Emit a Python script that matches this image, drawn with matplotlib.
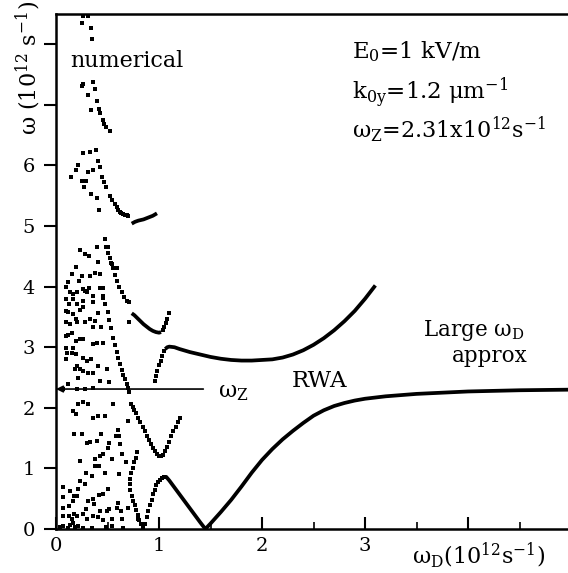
import matplotlib
matplotlib.use("Agg")
import matplotlib.pyplot as plt
from matplotlib.ticker import MultipleLocator

plt.rcParams['font.family'] = ['DejaVu Serif']
plt.rcParams['mathtext.fontset'] = 'dejavuserif'

# ---- parameters -------------------------------------------------------
omega_z = 2.31          # Zeeman frequency, 1e12 s^-1

# ---- numerical solutions: scattered cloud at small omega_D -------------
cloud_x = [
    0.265, 0.31, 0.25, 0.34, 0.35,
    0.25, 0.26, 0.356, 0.38, 0.31, 0.395, 0.34, 0.42, 0.43, 0.46, 0.47, 0.49, 0.52,
    0.265, 0.33, 0.39, 0.15, 0.19, 0.216, 0.25, 0.29, 0.275, 0.31, 0.356, 0.34, 0.395, 0.42,
    0.395, 0.50, 0.233, 0.28, 0.32, 0.41, 0.52, 0.53,
    0.194, 0.152, 0.249, 0.330, 0.379, 0.427, 0.411, 0.531, 0.556, 0.589,
    0.120, 0.097, 0.136, 0.227, 0.265, 0.282, 0.298, 0.324, 0.168, 0.201, 0.162, 0.097,
    0.201, 0.129, 0.259, 0.233, 0.265, 0.362, 0.453, 0.459, 0.356, 0.097, 0.120, 0.168,
    0.194, 0.411, 0.330, 0.379, 0.282, 0.097, 0.136, 0.201, 0.356, 0.434, 0.152, 0.120,
    0.097, 0.194, 0.233, 0.259, 0.356, 0.395, 0.459, 0.097, 0.168, 0.104, 0.152, 0.194,
    0.265, 0.097, 0.298, 0.337, 0.201, 0.184, 0.233, 0.265, 0.411, 0.492, 0.314, 0.362,
    0.217, 0.427, 0.120, 0.518, 0.071, 0.201, 0.356, 0.282, 0.71,
    0.162, 0.194, 0.217, 0.265, 0.411, 0.476, 0.556, 0.70, 0.362, 0.31,
    0.175, 0.249, 0.298, 0.330, 0.395, 0.434, 0.518, 0.583, 0.615, 0.599, 0.621,
    0.233, 0.379, 0.427, 0.459, 0.508, 0.541, 0.638, 0.68, 0.379, 0.42,
    0.291, 0.346, 0.476, 0.615,
    0.071, 0.233, 0.28, 0.136, 0.217, 0.508,
    0.071, 0.175, 0.207, 0.356, 0.42, 0.459,
    0.071, 0.129, 0.168, 0.291, 0.314, 0.369, 0.427, 0.498, 0.518, 0.589, 0.605, 0.628, 0.70,
    0.071, 0.129, 0.152, 0.175, 0.201, 0.265, 0.298, 0.356, 0.411, 0.453, 0.541, 0.638, 0.80,
    0.039, 0.071, 0.12, 0.136, 0.168, 0.184, 0.217, 0.265, 0.346, 0.49, 0.54, 0.65,
]
cloud_y = [
    8.47, 8.47, 8.35, 8.27, 8.09,
    7.31, 7.34, 7.38, 7.27, 7.17, 7.07, 6.91, 6.94, 6.86, 6.75, 6.69, 6.64, 6.57,
    6.21, 6.22, 6.26, 5.81, 5.92, 6.00, 5.74, 5.74, 5.64, 5.89, 5.92, 5.53, 5.46, 5.26,
    4.66, 4.65, 4.60, 4.54, 4.51, 4.41, 4.48, 4.39,
    4.32, 4.21, 4.18, 4.18, 4.22, 4.21, 4.40, 4.39, 4.31, 4.31,
    4.07, 4.00, 3.91, 4.10, 3.96, 3.93, 3.91, 3.98, 3.88, 3.91, 3.80, 3.80,
    3.71, 3.71, 3.77, 3.61, 3.66, 3.85, 3.98, 3.82, 3.74, 3.60, 3.58, 3.55,
    3.47, 3.56, 3.47, 3.44, 3.41, 3.41, 3.38, 3.41, 3.33, 3.33, 3.24, 3.21,
    3.19, 3.11, 3.13, 3.13, 3.06, 3.07, 3.07, 2.99, 2.99, 2.91, 2.91, 2.89,
    2.83, 2.81, 2.78, 2.81, 2.69, 2.64, 2.64, 2.61, 2.69, 2.64, 2.58, 2.57,
    2.50, 2.45, 2.39, 2.42, 2.31, 2.31, 2.33, 2.31, 3.41,
    1.95, 1.90, 2.06, 2.09, 1.87, 1.87, 2.06, 1.79, 1.84, 2.06,
    1.56, 1.56, 1.42, 1.44, 1.46, 1.56, 1.42, 1.54, 1.54, 1.63, 1.40,
    1.13, 1.16, 1.21, 1.23, 1.34, 1.15, 1.23, 1.10, 1.04, 1.04,
    0.93, 0.87, 0.93, 0.90,
    0.70, 0.79, 0.74, 0.63, 0.66, 0.66,
    0.52, 0.55, 0.55, 0.49, 0.56, 0.57,
    0.35, 0.38, 0.46, 0.33, 0.46, 0.41, 0.30, 0.30, 0.33, 0.35, 0.43, 0.30, 0.35,
    0.21, 0.21, 0.16, 0.24, 0.21, 0.24, 0.16, 0.21, 0.19, 0.15, 0.16, 0.16, 0.16,
    0.03, 0.05, 0.02, 0.07, 0.10, 0.03, 0.05, 0.02, 0.01, 0.03, 0.05, 0.01,
]

# ---- numerical solutions: sampled branches ------------------------------
branch_d_x = [0.41, 0.43, 0.45, 0.47, 0.49, 0.52, 0.54, 0.57, 0.59, 0.605, 0.62, 0.635, 0.65, 0.67, 0.685, 0.70]
branch_d_y = [6.08, 5.97, 5.81, 5.73, 5.64, 5.50, 5.43, 5.37, 5.31, 5.26, 5.23, 5.21, 5.20, 5.19, 5.18, 5.17]

branch_c_x = [0.476, 0.49, 0.505, 0.524, 0.54, 0.556, 0.575, 0.59, 0.615, 0.64, 0.66, 0.686, 0.712]
branch_c_y = [4.78, 4.65, 4.56, 4.47, 4.38, 4.31, 4.20, 4.09, 3.99, 3.91, 3.83, 3.77, 3.74]

branch_c2_x = [1.035, 1.05, 1.065, 1.08, 1.10]
branch_c2_y = [3.28, 3.33, 3.40, 3.47, 3.56]

branch_b_x = [0.43, 0.455, 0.48, 0.50, 0.518, 0.535, 0.556, 0.57, 0.59, 0.605, 0.625, 0.64, 0.655,
              0.67, 0.685, 0.70, 0.71, 0.73, 0.745, 0.76, 0.78, 0.80, 0.82, 0.84, 0.86, 0.88,
              0.90, 0.92, 0.94, 0.96, 0.98, 1.0, 1.02, 1.04, 1.06, 1.08, 1.10, 1.12, 1.14,
              1.16, 1.18, 1.20]
branch_b_y = [3.97, 3.85, 3.72, 3.58, 3.45, 3.31, 3.16, 3.03, 2.92, 2.83, 2.73, 2.63, 2.55,
              2.48, 2.40, 2.33, 2.26, 2.07, 2.02, 1.97, 1.91, 1.84, 1.77, 1.69, 1.61, 1.54,
              1.47, 1.40, 1.34, 1.28, 1.24, 1.21, 1.20, 1.22, 1.28, 1.35, 1.44, 1.53, 1.61,
              1.69, 1.76, 1.83]

branch_e_x = [0.96, 0.97, 0.985, 1.0, 1.015, 1.03, 1.05]
branch_e_y = [2.45, 2.53, 2.61, 2.70, 2.78, 2.86, 2.94]

branch_a_x = [0.79, 0.775, 0.76, 0.745, 0.73, 0.72, 0.715, 0.72, 0.735, 0.75, 0.765, 0.78, 0.795,
              0.81, 0.825, 0.84, 0.864, 0.88, 0.896, 0.913, 0.93, 0.945, 0.96, 0.975, 0.99,
              1.01, 1.03, 1.05]
branch_a_y = [1.27, 1.18, 1.10, 1.00, 0.92, 0.83, 0.74, 0.64, 0.55, 0.47, 0.39, 0.31, 0.23,
              0.15, 0.08, 0.02, 0.08, 0.19, 0.30, 0.39, 0.48, 0.57, 0.65, 0.72, 0.77,
              0.81, 0.84, 0.86]

# ---- densely sampled (continuous) branches ------------------------------
line_d2_x = [0.735, 0.767, 0.80, 0.85, 0.91, 0.94, 0.98]
line_d2_y = [5.04, 5.07, 5.09, 5.11, 5.15, 5.17, 5.21]

line_c2_x = [0.735, 0.76, 0.79, 0.82, 0.85, 0.88, 0.91, 0.94, 0.97, 1.0, 1.02]
line_c2_y = [3.56, 3.53, 3.48, 3.43, 3.38, 3.34, 3.30, 3.27, 3.25, 3.24, 3.25]

line_e_x = [1.06, 1.08, 1.1, 1.15, 1.2, 1.3, 1.4, 1.5, 1.6, 1.7, 1.8, 1.9, 2.0, 2.1, 2.2, 2.3,
            2.4, 2.5, 2.6, 2.7, 2.8, 2.9, 3.0, 3.1]
line_e_y = [2.97, 3.0, 3.01, 3.0, 2.97, 2.92, 2.88, 2.84, 2.81, 2.79, 2.78, 2.78, 2.79, 2.80,
            2.83, 2.88, 2.95, 3.04, 3.15, 3.28, 3.43, 3.60, 3.80, 4.02]

line_low_x = [1.05, 1.07, 1.1, 1.2, 1.3, 1.4, 1.45, 1.5, 1.6, 1.7, 1.8, 1.9, 2.0, 2.1, 2.2, 2.3,
              2.4, 2.5, 2.6, 2.7, 2.8, 2.9, 3.0, 3.2, 3.5, 4.0, 4.5, 5.0]
line_low_y = [0.86, 0.86, 0.80, 0.57, 0.34, 0.11, 0.0, 0.09, 0.28, 0.48, 0.70, 0.93, 1.14, 1.32,
              1.48, 1.62, 1.75, 1.87, 1.96, 2.03, 2.08, 2.12, 2.15, 2.19, 2.23, 2.27, 2.29, 2.30]

# ---- axis ticks -----------------------------------------------------------
x_ticks = [0, 1, 2, 3, 4]
x_tick_labels = ['0', '1', '2', '3', '']
y_ticks = [0, 1, 2, 3, 4, 5, 6, 7, 8]
y_tick_labels = ['0', '1', '2', '3', '4', '5', '6', '', '']

# ---- figure -----------------------------------------------------------------
fig = plt.figure(figsize=(5.68, 5.73), dpi=100)
ax = fig.add_axes([56 / 568, 44 / 573, 512 / 568, 515 / 573])
ax.set_xlim(0, 4.97)
ax.set_ylim(0, 8.5)

dot = dict(linestyle='none', marker='s', ms=2.8, mew=0, color='k', clip_on=False)
ax.plot(cloud_x, cloud_y, **dot)
for bx, by in [(branch_d_x, branch_d_y), (branch_c_x, branch_c_y), (branch_c2_x, branch_c2_y),
               (branch_b_x, branch_b_y), (branch_e_x, branch_e_y), (branch_a_x, branch_a_y)]:
    ax.plot(bx, by, **dot)

solid = dict(color='k', lw=2.7, solid_capstyle='butt', solid_joinstyle='round')
for lx, ly in [(line_d2_x, line_d2_y), (line_c2_x, line_c2_y), (line_e_x, line_e_y),
               (line_low_x, line_low_y)]:
    ax.plot(lx, ly, **solid)

# Zeeman frequency marker
ax.annotate('', xy=(0.0, omega_z), xytext=(1.43, omega_z),
            arrowprops=dict(arrowstyle='-|>', color='k', lw=1.2, mutation_scale=10,
                            shrinkA=0, shrinkB=0))

# annotations
ax.text(0.136, 7.62, 'numerical', fontsize=16, va='baseline')
ax.text(2.87, 7.77, r'E$_0$=1 kV/m', fontsize=16.5, va='baseline')
ax.text(2.87, 7.09, r'k$_{\rm 0y}$=1.2 μm$^{-1}$', fontsize=16.5, va='baseline')
ax.text(2.87, 6.45, r'ω$_{\rm Z}$=2.31x10$^{12}$s$^{-1}$', fontsize=16, va='baseline')
ax.text(1.57, 2.18, r'ω$_{\rm Z}$', fontsize=16, va='baseline')
ax.text(2.29, 2.34, 'RWA', fontsize=16.5, va='baseline')
ax.text(3.56, 3.18, r'Large ω$_{\rm D}$', fontsize=15.5, va='baseline')
ax.text(3.84, 2.76, 'approx', fontsize=15.5, va='baseline')

# axes styling
for side in ['left', 'bottom', 'top']:
    ax.spines[side].set_linewidth(1.8)
ax.spines['right'].set_visible(False)

ax.set_xticks(x_ticks)
ax.set_xticklabels(x_tick_labels, fontsize=14)
ax.xaxis.set_minor_locator(MultipleLocator(0.5))
ax.tick_params(axis='x', which='major', direction='in', length=9, width=1.5, pad=6)
ax.tick_params(axis='x', which='minor', direction='in', length=5, width=1.2)
ax.set_yticks(y_ticks)
ax.set_yticklabels(y_tick_labels, fontsize=14)
ax.tick_params(axis='y', which='major', direction='out', length=9, width=1.5, pad=6)

fig.text(28 / 568, 1 - 68 / 573, r'ω (10$^{12}$ s$^{-1}$)', rotation=90, fontsize=16,
         ha='center', va='center')
fig.text(479 / 568, 1 - 555 / 573, r'ω$_{\rm D}$(10$^{12}$s$^{-1}$)', fontsize=16,
         ha='center', va='center')

fig.savefig('out.png', dpi=100)
